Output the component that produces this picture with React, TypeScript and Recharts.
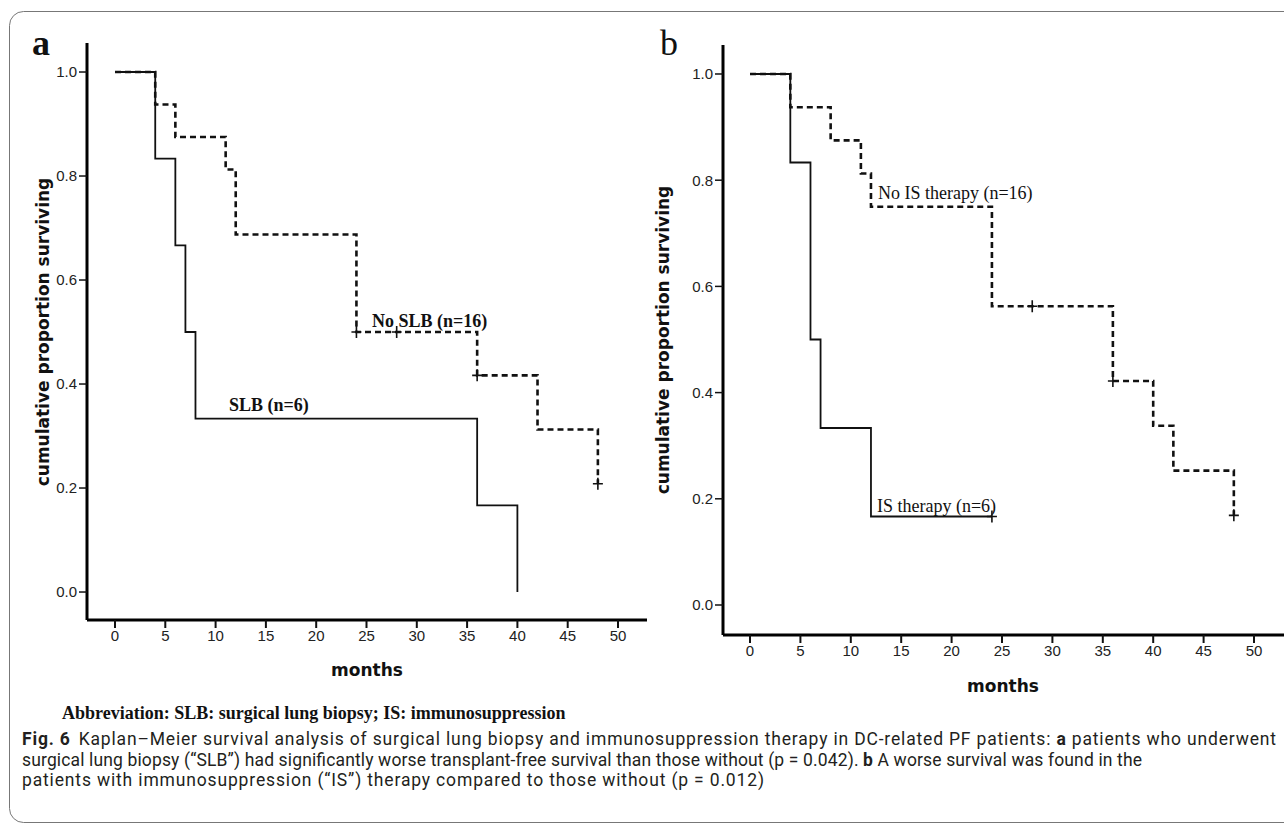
import { ComposedChart, Line, Scatter, XAxis, YAxis } from 'recharts';

// Kaplan-Meier step points: t = months, s = cumulative proportion surviving
const noSlbCurve = [
  { t: 0, s: 1 },
  { t: 4, s: 0.9375 },
  { t: 6, s: 0.875 },
  { t: 11, s: 0.8125 },
  { t: 12, s: 0.6875 },
  { t: 24, s: 0.5 },
  { t: 36, s: 0.4167 },
  { t: 42, s: 0.3125 },
  { t: 48, s: 0.2083 },
];
const slbCurve = [
  { t: 0, s: 1 },
  { t: 4, s: 0.8333 },
  { t: 6, s: 0.6667 },
  { t: 7, s: 0.5 },
  { t: 8, s: 0.3333 },
  { t: 36, s: 0.1667 },
  { t: 40, s: 0 },
];
const noSlbCensored = [
  { t: 24, s: 0.5 },
  { t: 28, s: 0.5 },
  { t: 36, s: 0.4167 },
  { t: 48, s: 0.2083 },
];

const noIsCurve = [
  { t: 0, s: 1 },
  { t: 4, s: 0.9375 },
  { t: 8, s: 0.875 },
  { t: 11, s: 0.8125 },
  { t: 12, s: 0.75 },
  { t: 24, s: 0.5625 },
  { t: 36, s: 0.4219 },
  { t: 40, s: 0.3375 },
  { t: 42, s: 0.2531 },
  { t: 48, s: 0.1688 },
];
const isCurve = [
  { t: 0, s: 1 },
  { t: 4, s: 0.8333 },
  { t: 6, s: 0.5 },
  { t: 7, s: 0.3333 },
  { t: 12, s: 0.1667 },
  { t: 24, s: 0.1667 },
];
const noIsCensored = [
  { t: 28, s: 0.5625 },
  { t: 36, s: 0.4219 },
  { t: 48, s: 0.1688 },
];
const isCensored = [{ t: 24, s: 0.1667 }];

const monthTicks = [0, 5, 10, 15, 20, 25, 30, 35, 40, 45, 50];
const proportionTicks = [0, 0.2, 0.4, 0.6, 0.8, 1];

const tickFont = { fill: '#222', fontSize: 15, fontFamily: '"Liberation Sans", Arial, sans-serif' };
const titleFont = { fontFamily: '"DejaVu Sans", Verdana, sans-serif', fontWeight: 'bold', fontSize: 17, fill: '#111' };
const serif = '"Liberation Serif", "Times New Roman", serif';

const PlusMark = (props: any) => {
  const { cx, cy } = props;
  if (cx == null || cy == null) return null;
  return (
    <path
      d={`M${cx - 5},${cy}H${cx + 5}M${cx},${cy - 6}V${cy + 6}`}
      stroke="#111"
      strokeWidth={1.6}
      fill="none"
    />
  );
};

interface PanelProps {
  width: number;
  height: number;
  margin: { top: number; right: number; bottom: number; left: number };
  xDomain: [number, number];
  yDomain: [number, number];
  dashed: { t: number; s: number }[];
  solid: { t: number; s: number }[];
  censored: { t: number; s: number }[][];
}

const Panel = ({ width, height, margin, xDomain, yDomain, dashed, solid, censored }: PanelProps) => (
  <ComposedChart width={width} height={height} margin={margin}>
    <XAxis
      type="number"
      dataKey="t"
      domain={xDomain}
      ticks={monthTicks}
      interval={0}
      allowDataOverflow
      height={30}
      tickSize={8}
      axisLine={{ stroke: '#000', strokeWidth: 3 }}
      tickLine={{ stroke: '#111', strokeWidth: 2 }}
      tick={tickFont}
    />
    <YAxis
      type="number"
      dataKey="s"
      domain={yDomain}
      ticks={proportionTicks}
      interval={0}
      allowDataOverflow
      width={60}
      tickSize={8}
      tickFormatter={(v: number) => v.toFixed(1)}
      axisLine={{ stroke: '#000', strokeWidth: 3 }}
      tickLine={{ stroke: '#111', strokeWidth: 1.5 }}
      tick={tickFont}
    />
    <Line
      data={solid}
      dataKey="s"
      type="stepAfter"
      stroke="#111"
      strokeWidth={1.8}
      dot={false}
      activeDot={false}
      isAnimationActive={false}
    />
    <Line
      data={dashed}
      dataKey="s"
      type="stepAfter"
      stroke="#111"
      strokeWidth={2.6}
      strokeDasharray="6 4"
      dot={false}
      activeDot={false}
      isAnimationActive={false}
    />
    {censored.map((pts, i) => (
      <Scatter key={i} data={pts} dataKey="s" shape={PlusMark} isAnimationActive={false} />
    ))}
  </ComposedChart>
);

export default function App() {
  return (
    <div
      style={{
        position: 'absolute',
        left: 0,
        top: 0,
        width: 1284,
        height: 826,
        overflow: 'hidden',
        background: '#fff',
      }}
    >
      <div style={{ position: 'absolute', left: 0, top: 0 }}>
        <Panel
          width={660}
          height={700}
          margin={{ top: 43, right: 13, bottom: 50, left: 27 }}
          xDomain={[-2.783, 52.883]}
          yDomain={[-0.0538, 1.0558]}
          dashed={noSlbCurve}
          solid={slbCurve}
          censored={[noSlbCensored]}
        />
      </div>
      <div style={{ position: 'absolute', left: 640, top: 0 }}>
        <Panel
          width={644}
          height={720}
          margin={{ top: 45, right: 0, bottom: 55, left: 23 }}
          xDomain={[-2.679, 52.976]}
          yDomain={[-0.0565, 1.0546]}
          dashed={noIsCurve}
          solid={isCurve}
          censored={[noIsCensored, isCensored]}
        />
      </div>
      <svg
        width={1284}
        height={826}
        style={{ position: 'absolute', left: 0, top: 0, pointerEvents: 'none' }}
      >
        <rect x={9.5} y={11.5} width={1320} height={811} rx={14} fill="none" stroke="#777" strokeWidth={1} />

        <text x={32} y={55} fontFamily={serif} fontWeight="bold" fontSize={36} fill="#111">a</text>
        <text x={660} y={55} fontFamily={serif} fontSize={36} fill="#111">b</text>

        <text x={49} y={332} transform="rotate(-90 49 332)" textAnchor="middle" {...titleFont}>
          cumulative proportion surviving
        </text>
        <text x={669} y={340} transform="rotate(-90 669 340)" textAnchor="middle" {...titleFont}>
          cumulative proportion surviving
        </text>
        <text x={367} y={676} textAnchor="middle" {...titleFont}>months</text>
        <text x={1003} y={692} textAnchor="middle" {...titleFont}>months</text>

        <text x={372} y={327} fontFamily={serif} fontWeight="bold" fontSize={18} fill="#111">No SLB (n=16)</text>
        <text x={229} y={411} fontFamily={serif} fontWeight="bold" fontSize={18} fill="#111">SLB (n=6)</text>
        <text x={878} y={199} fontFamily={serif} fontSize={18} fill="#111">No IS therapy (n=16)</text>
        <text x={877} y={512} fontFamily={serif} fontSize={18} fill="#111">IS therapy (n=6)</text>

        <text x={62} y={719} fontFamily={serif} fontWeight="bold" fontSize={18} fill="#111">
          Abbreviation: SLB: surgical lung biopsy; IS: immunosuppression
        </text>

        <g fontFamily='Roboto, "Open Sans", sans-serif' fontSize={17.5} fill="#231f20">
          <text x={22} y={745} textLength={1254} lengthAdjust="spacing">
            <tspan fontWeight="bold">Fig. 6</tspan>
            <tspan dx={8}>
              Kaplan–Meier survival analysis of surgical lung biopsy and immunosuppression therapy in DC-related PF patients:{' '}
            </tspan>
            <tspan fontWeight="bold">a</tspan>
            <tspan> patients who underwent</tspan>
          </text>
          <text x={22} y={765.5} textLength={1120} lengthAdjust="spacing">
            <tspan>
              surgical lung biopsy (“SLB”) had significantly worse transplant-free survival than those without (p = 0.042).{' '}
            </tspan>
            <tspan fontWeight="bold">b</tspan>
            <tspan> A worse survival was found in the</tspan>
          </text>
          <text x={22} y={786} textLength={742} lengthAdjust="spacing">
            patients with immunosuppression (“IS”) therapy compared to those without (p = 0.012)
          </text>
        </g>
      </svg>
    </div>
  );
}
